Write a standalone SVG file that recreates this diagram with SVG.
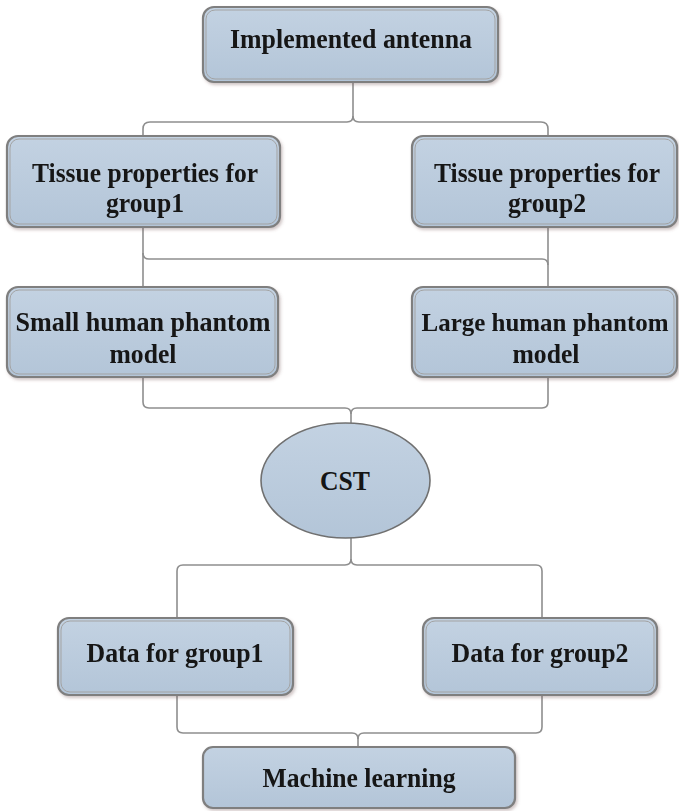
<svg xmlns="http://www.w3.org/2000/svg" width="679" height="811" viewBox="0 0 679 811">
  <defs>
    <linearGradient id="boxFill" x1="0" y1="0" x2="0" y2="1">
      <stop offset="0" stop-color="#c3d2e2"/>
      <stop offset="1" stop-color="#b3c5d8"/>
    </linearGradient>
    <filter id="shadow" x="-5%" y="-10%" width="112%" height="125%">
      <feDropShadow dx="1.5" dy="2" stdDeviation="1.5" flood-color="#7a5a5a" flood-opacity="0.35"/>
    </filter>
  </defs>
  <style>
    .outer { fill: url(#boxFill); stroke: #7f7f7f; stroke-width: 2.2; }
    .inner { fill: none; stroke: #a3a3a3; stroke-width: 1; }
    .oval { fill: url(#boxFill); stroke: #707070; stroke-width: 1.6; }
    .label { font-family: "Liberation Serif", "Times New Roman", serif; font-weight: bold; font-size: 27px; fill: #151515; text-anchor: middle; }
    .link { fill: none; stroke: #8e8e8e; stroke-width: 1.6; }
  </style>
  <rect width="679" height="811" fill="#ffffff"/>

  <!-- connectors -->
  <g id="connectors">
    <!-- antenna to tissue groups -->
    <path class="link" d="M353,82 V116 Q353,122 347,122 H150 Q143,122 143,129 V136"/>
    <path class="link" d="M353,116 Q353,122 359,122 H541 Q548,122 548,129 V136"/>
    <!-- tissue groups to phantom models -->
    <path class="link" d="M143,227 V287"/>
    <path class="link" d="M548,227 V287"/>
    <path class="link" d="M143,253 Q143,259 149,259 H542 Q548,259 548,265"/>
    <!-- phantom models to CST -->
    <path class="link" d="M143,377 V402 Q143,408 149,408 H345 Q351,408 351,414 V423"/>
    <path class="link" d="M548,377 V402 Q548,408 542,408 H357 Q351,408 351,414"/>
    <!-- CST to data groups -->
    <path class="link" d="M351,538 V559 Q351,565 345,565 H183 Q177,565 177,571 V618"/>
    <path class="link" d="M351,559 Q351,565 357,565 H536 Q542,565 542,571 V618"/>
    <!-- data groups to machine learning -->
    <path class="link" d="M177,695 V727 Q177,733 183,733 H352 Q358,733 358,739 V747"/>
    <path class="link" d="M542,695 V727 Q542,733 536,733 H364 Q358,733 358,739"/>
  </g>

  <g id="implemented-antenna" filter="url(#shadow)">
    <rect class="outer" x="203" y="7" width="295" height="75" rx="11"/>
    <rect class="inner" x="206" y="10" width="289" height="69" rx="9"/>
    <text class="label" x="351" y="48" textLength="242" lengthAdjust="spacingAndGlyphs">Implemented antenna</text>
  </g>

  <g id="tissue-group1" filter="url(#shadow)">
    <rect class="outer" x="7" y="136" width="273" height="91" rx="11"/>
    <rect class="inner" x="10" y="139" width="267" height="85" rx="9"/>
    <text class="label" x="145" y="182" textLength="226" lengthAdjust="spacingAndGlyphs">Tissue properties for</text>
    <text class="label" x="145" y="212" textLength="78" lengthAdjust="spacingAndGlyphs">group1</text>
  </g>

  <g id="tissue-group2" filter="url(#shadow)">
    <rect class="outer" x="412" y="136" width="265" height="91" rx="11"/>
    <rect class="inner" x="415" y="139" width="259" height="85" rx="9"/>
    <text class="label" x="547" y="182" textLength="226" lengthAdjust="spacingAndGlyphs">Tissue properties for</text>
    <text class="label" x="547" y="212" textLength="78" lengthAdjust="spacingAndGlyphs">group2</text>
  </g>

  <g id="small-phantom" filter="url(#shadow)">
    <rect class="outer" x="7" y="287" width="271" height="90" rx="11"/>
    <rect class="inner" x="10" y="290" width="265" height="84" rx="9"/>
    <text class="label" x="143" y="331" textLength="255" lengthAdjust="spacingAndGlyphs">Small human phantom</text>
    <text class="label" x="143" y="363" textLength="67" lengthAdjust="spacingAndGlyphs">model</text>
  </g>

  <g id="large-phantom" filter="url(#shadow)">
    <rect class="outer" x="412" y="287" width="265" height="90" rx="11"/>
    <rect class="inner" x="415" y="290" width="259" height="84" rx="9"/>
    <text class="label" x="545" y="331" style="font-size:25px" textLength="247" lengthAdjust="spacingAndGlyphs">Large human phantom</text>
    <text class="label" x="546" y="363" textLength="67" lengthAdjust="spacingAndGlyphs">model</text>
  </g>

  <g id="cst">
    <ellipse class="oval" cx="345.5" cy="480.5" rx="84.5" ry="57.5"/>
    <text class="label" x="345" y="490" textLength="50" lengthAdjust="spacingAndGlyphs">CST</text>
  </g>

  <g id="data-group1" filter="url(#shadow)">
    <rect class="outer" x="58" y="618" width="235" height="77" rx="11"/>
    <rect class="inner" x="61" y="621" width="229" height="71" rx="9"/>
    <text class="label" x="175" y="662" textLength="177" lengthAdjust="spacingAndGlyphs">Data for group1</text>
  </g>

  <g id="data-group2" filter="url(#shadow)">
    <rect class="outer" x="423" y="618" width="234" height="77" rx="11"/>
    <rect class="inner" x="426" y="621" width="228" height="71" rx="9"/>
    <text class="label" x="540" y="662" textLength="177" lengthAdjust="spacingAndGlyphs">Data for group2</text>
  </g>

  <g id="machine-learning" filter="url(#shadow)">
    <rect class="outer" x="203" y="747" width="312" height="61" rx="10"/>
    <text class="label" x="359" y="787" textLength="193" lengthAdjust="spacingAndGlyphs">Machine learning</text>
  </g>
</svg>
